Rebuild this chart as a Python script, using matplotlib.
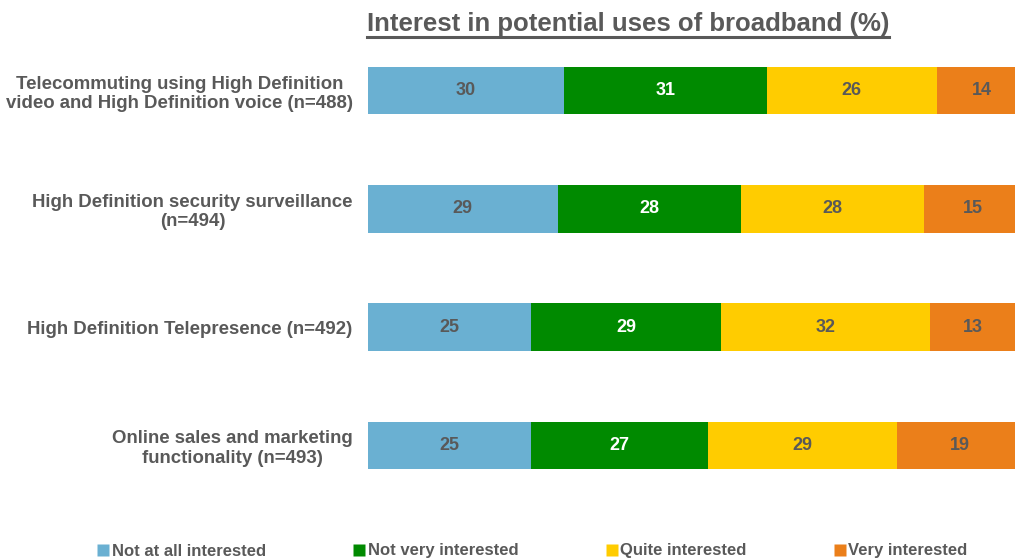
import matplotlib
matplotlib.use("Agg")
import matplotlib.pyplot as plt
from matplotlib.lines import Line2D
import numpy as np

plt.rcParams["font.family"] = ["Liberation Sans", "DejaVu Sans"]

CATEGORIES = [
    "Telecommuting using High Definition\nvideo and High Definition voice (n=488)",
    "High Definition security surveillance\n(n=494)",
    "High Definition Telepresence (n=492)",
    "Online sales and marketing\nfunctionality (n=493)",
]
SERIES = ["Not at all interested", "Not very interested", "Quite interested", "Very interested"]
VALUES = {
    "Not at all interested": [30, 29, 25, 25],
    "Not very interested": [31, 28, 29, 27],
    "Quite interested": [26, 28, 32, 29],
    "Very interested": [14, 15, 13, 19],
}
COLORS = ["#6AB0D2", "#008A00", "#FFCC00", "#EB7F1A"]
LABEL_COLORS = ["#595959", "white", "#595959", "#595959"]
GREY = "#595959"

fig = plt.figure(figsize=(10.16, 5.6), dpi=100)
ax = fig.add_axes([368 / 1016, 1 - 504.5 / 560, 647 / 1016, 473 / 560])

y = np.arange(len(CATEGORIES))
left = np.zeros(len(CATEGORIES))
for s, col, lc in zip(SERIES, COLORS, LABEL_COLORS):
    vals = np.array(VALUES[s], dtype=float)
    ax.barh(y, vals, left=left, height=0.4, color=col, label=s, edgecolor="none")
    for yi, l, v in zip(y, left, vals):
        ax.text(l + v / 2, yi, f"{v:.0f}", ha="center", va="center",
                fontsize=13, fontweight="bold", color=lc)
    left += vals

ax.set_xlim(0, 99)
ax.set_ylim(3.5, -0.5)
ax.set_yticks(y)
ax.set_yticklabels(CATEGORIES, fontsize=13.4, fontweight="bold", color=GREY,
                   multialignment="center", linespacing=1.2)
ax.tick_params(axis="y", length=0, pad=11)
ax.set_xticks([])
for sp in ax.spines.values():
    sp.set_visible(False)

title = fig.text(628 / 1016, 1 - 24 / 560, "Interest in potential uses of broadband (%)",
                 ha="center", va="center", fontsize=18.5, fontweight="bold", color=GREY)
fig.canvas.draw()
bb = title.get_window_extent().transformed(fig.transFigure.inverted())
fig.add_artist(Line2D([bb.x0, bb.x1], [bb.y0 - 0.002, bb.y0 - 0.002],
                      transform=fig.transFigure, color=GREY, linewidth=2.2))

handles = [Line2D([], [], marker="s", linestyle="none", markersize=8,
                  markerfacecolor=c, markeredgecolor="none") for c in COLORS]
leg = fig.legend(handles, SERIES, loc="center", bbox_to_anchor=(532 / 1016, 1 - 551 / 560),
                 ncol=4, frameon=False, columnspacing=5.2, handletextpad=0.1,
                 handlelength=0.8, borderpad=0, prop={"size": 12, "weight": "bold"})
for t in leg.get_texts():
    t.set_color(GREY)

fig.savefig("out.png", dpi=100)
